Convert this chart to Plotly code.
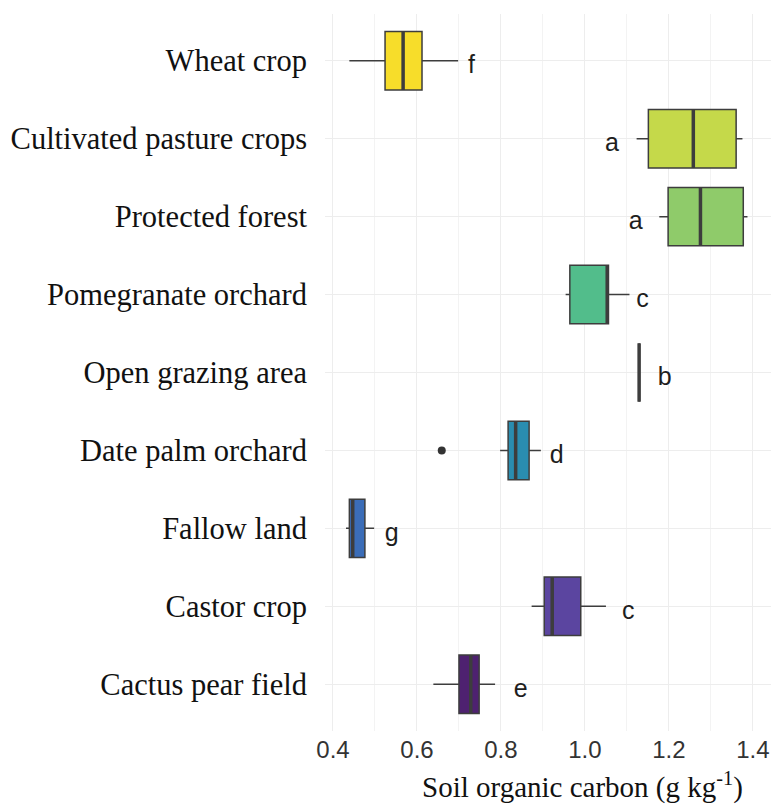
import plotly.graph_objects as go

# Land-use categories, top to bottom
land_uses = [
    "Wheat crop",
    "Cultivated pasture crops",
    "Protected forest",
    "Pomegranate orchard",
    "Open grazing area",
    "Date palm orchard",
    "Fallow land",
    "Castor crop",
    "Cactus pear field",
]

# Box statistics of soil organic carbon (g kg-1)
lower_whisker = [0.439, 1.123, 1.177, 0.954, 1.129, 0.798, 0.431, 0.873, 0.639]
q1_values     = [0.524, 1.151, 1.198, 0.964, 1.129, 0.817, 0.439, 0.903, 0.700]
median_values = [0.567, 1.258, 1.275, 1.053, 1.129, 0.835, 0.447, 0.922, 0.728]
q3_values     = [0.612, 1.360, 1.377, 1.056, 1.129, 0.867, 0.476, 0.990, 0.748]
upper_whisker = [0.698, 1.375, 1.387, 1.106, 1.129, 0.895, 0.498, 1.050, 0.786]

# Outlying observations
outlier_group = ["Date palm orchard"]
outlier_value = [0.659]

# Significance letters and the x value at which each is printed
sig_letters  = ["f", "a", "a", "c", "b", "d", "g", "c", "e"]
sig_letter_x = [0.730, 1.064, 1.121, 1.137, 1.190, 0.933, 0.540, 1.103, 0.847]

fill_colors = ["#F7DD2A", "#C5D94A", "#8FCB6A", "#52BD8B", "#2F8F7F",
               "#2A8DB0", "#3B6DB8", "#5B45A0", "#4E2170"]

x_ticks = [0.4, 0.6, 0.8, 1.0, 1.2, 1.4]
x_tick_labels = ["0.4", "0.6", "0.8", "1.0", "1.2", "1.4"]

BOX_HALF = 0.375
EDGE = "#3D3D3D"
positions = list(range(len(land_uses)))

fig = go.Figure()

for i, name in enumerate(land_uses):
    fig.add_trace(go.Box(
        y=[positions[i]],
        q1=[q1_values[i]], median=[median_values[i]], q3=[q3_values[i]],
        lowerfence=[lower_whisker[i]], upperfence=[upper_whisker[i]],
        orientation="h", width=2 * BOX_HALF, whiskerwidth=0,
        fillcolor=fill_colors[i], line=dict(color=EDGE, width=1.5),
        boxpoints=False, name=name, showlegend=False, hoverinfo="skip",
    ))
    # thicker median bar
    fig.add_trace(go.Scatter(
        x=[median_values[i], median_values[i]],
        y=[positions[i] - BOX_HALF, positions[i] + BOX_HALF],
        mode="lines", line=dict(color=EDGE, width=3.5),
        showlegend=False, hoverinfo="skip",
    ))

# outliers
fig.add_trace(go.Scatter(
    x=outlier_value,
    y=[land_uses.index(g) for g in outlier_group],
    mode="markers",
    marker=dict(color="#333333", size=8, symbol="circle"),
    showlegend=False, hoverinfo="skip",
))

# significance letters
fig.add_trace(go.Scatter(
    x=sig_letter_x,
    y=[p + 0.08 for p in positions],
    mode="text", text=sig_letters,
    textfont=dict(family="Liberation Sans", size=25, color="#1E1E1E"),
    textposition="middle center",
    showlegend=False, hoverinfo="skip",
))

fig.update_layout(
    width=771, height=806,
    margin=dict(l=325, r=0, t=14, b=75),
    plot_bgcolor="white", paper_bgcolor="white",
    xaxis=dict(
        range=[0.381, 1.443],
        tickvals=x_ticks, ticktext=x_tick_labels,
        tickfont=dict(family="Liberation Sans", size=24, color="#333333"),
        showgrid=True, gridcolor="#EDEDED", gridwidth=1,
        minor=dict(dtick=0.1, tick0=0.4, showgrid=True, gridcolor="#F3F3F3", gridwidth=1),
        zeroline=False, showline=False, ticks="", ticklabelstandoff=2,
    ),
    yaxis=dict(
        range=[8.6, -0.6],
        tickvals=positions, ticktext=land_uses,
        tickfont=dict(family="Liberation Serif", size=30.5, color="#111111"),
        showgrid=True, gridcolor="#EDEDED", gridwidth=1,
        zeroline=False, showline=False, ticks="", ticklabelstandoff=17,
    ),
    annotations=[dict(
        text="Soil organic carbon (g kg<sup>-1</sup>)",
        xref="paper", yref="paper", x=0.578, y=-0.076,
        xanchor="center", yanchor="middle", showarrow=False,
        font=dict(family="Liberation Serif", size=29, color="#111111"),
    )],
)

fig.write_html("out.html")
